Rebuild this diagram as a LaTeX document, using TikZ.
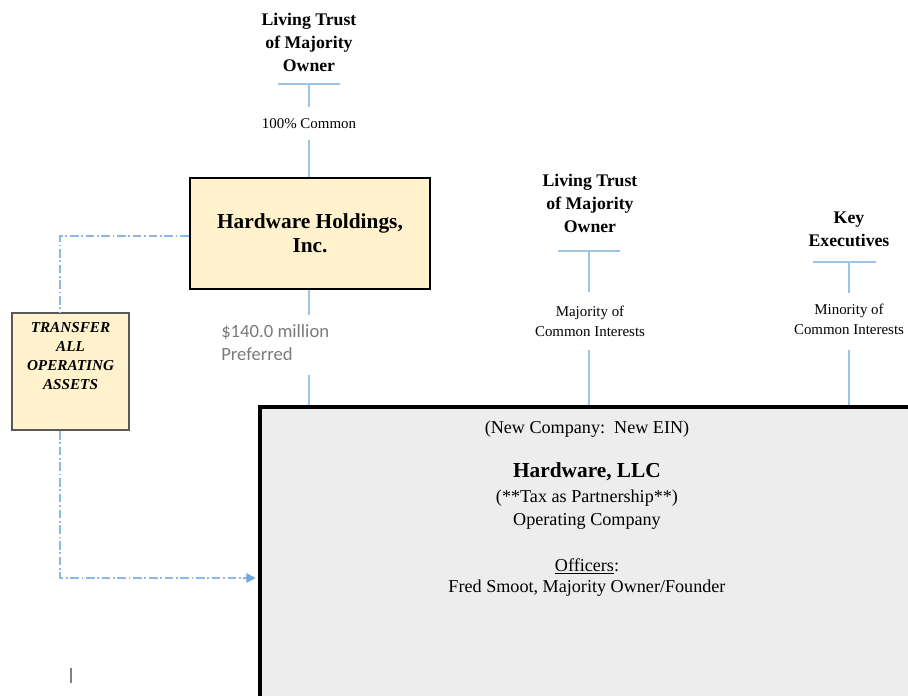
\documentclass[tikz,border=0pt]{standalone}
\usepackage{fontspec}
\setmainfont{Liberation Serif}
\newfontfamily\carlito{Carlito}
\usetikzlibrary{arrows.meta}
\definecolor{lineblue}{HTML}{9DC3E6}
\definecolor{dashblue}{HTML}{8DB8E4}
\definecolor{arrowblue}{HTML}{6FA8DC}
\definecolor{boxyellow}{HTML}{FFF2CC}
\definecolor{boxgray}{HTML}{EDEDED}
\definecolor{labelgray}{HTML}{7A7A7A}
\definecolor{tborder}{HTML}{595959}
\begin{document}
\begin{tikzpicture}[x=0.75pt,y=-0.75pt,
  ownertitle/.style={align=center, font=\bfseries\fontsize{13.3}{17.25}\selectfont, inner sep=0pt},
  sharelabel/.style={align=center, font=\fontsize{11.2}{15}\selectfont, inner sep=0pt},
  conn/.style={draw=lineblue, line width=1.3pt},
  ddline/.style={draw=dashblue, line width=1.4pt, dash pattern=on 6.5pt off 2pt on 1.3pt off 2pt},
  holdbox/.style={draw=black, fill=boxyellow, line width=2pt, minimum width=180pt, minimum height=83.25pt,
    align=center, font=\bfseries\fontsize{16}{18}\selectfont, inner sep=0pt},
  transbox/.style={draw=tborder, fill=boxyellow, line width=1.3pt, minimum width=87.75pt, minimum height=87.75pt,
    align=center, font=\bfseries\itshape\fontsize{11.4}{14.25}\selectfont, inner sep=0pt},
  llcbox/.style={draw=black, fill=boxgray, line width=2.4pt, minimum width=490.5pt, minimum height=264.75pt, inner sep=0pt},
  llctext/.style={anchor=base, font=\fontsize{13.6}{16}\selectfont, inner sep=0pt},
  preflabel/.style={anchor=west, align=left, font=\carlito\fontsize{14}{17.25}\selectfont, text=labelgray, inner sep=0pt}
]
\useasboundingbox (0,0) rectangle (908,696);

% big LLC box (extends beyond the page)
\node[llcbox] (llc) at (587,583.5) {};
\node[llctext] (nc) at (587,433) {(New Company:\ \ New EIN)};
\node[llctext, font=\bfseries\fontsize{16}{18}\selectfont] (llcname) at (587,477) {Hardware, LLC};
\node[llctext] (tax) at (587,502) {(**Tax as Partnership**)};
\node[llctext] (opco) at (587,525) {Operating Company};
\node[llctext] (off) at (587,571) {\underline{Officers}:};
\node[llctext] (fred) at (587,592) {Fred Smoot, Majority Owner/Founder};

% Holdings
\node[holdbox] (hold) at (310,233.5) {Hardware Holdings,\\Inc.};

% Owner 1
\node[ownertitle] (lt1) at (309,42) {Living Trust\\of Majority\\Owner};
\coordinate (bar1) at (309,84);
\coordinate (bar1l) at (278,84);
\coordinate (bar1r) at (340,84);
\draw[conn] (bar1l) -- (bar1r);
\node[sharelabel] (s1) at (309,124) {100\% Common};
\coordinate (g1a) at (309,107);
\coordinate (g1b) at (309,140);
\draw[conn] (bar1) -- (g1a);
\draw[conn] (g1b) -- (g1b |- hold.north);

% Preferred
\node[preflabel] (pref) at (221,342.5) {\$140.0 million\\Preferred};
\coordinate (p1) at (309,315);
\coordinate (p2) at (309,375);
\draw[conn] (p1 |- hold.south) -- (p1);
\draw[conn] (p2) -- (p2 |- llc.north);

% Owner 2
\node[ownertitle] (lt2) at (590,203) {Living Trust\\of Majority\\Owner};
\coordinate (bar2) at (589,251);
\coordinate (bar2l) at (558,251);
\coordinate (bar2r) at (620,251);
\draw[conn] (bar2l) -- (bar2r);
\node[sharelabel] (s2) at (590,321) {Majority of\\Common Interests};
\coordinate (g2a) at (589,292);
\coordinate (g2b) at (589,350);
\draw[conn] (bar2) -- (g2a);
\draw[conn] (g2b) -- (g2b |- llc.north);

% Key executives
\node[ownertitle] (ke) at (849,229) {Key\\Executives};
\coordinate (bar3) at (849,262);
\coordinate (bar3l) at (813,262);
\coordinate (bar3r) at (876,262);
\draw[conn] (bar3l) -- (bar3r);
\node[sharelabel] (s3) at (849,319.5) {Minority of\\Common Interests};
\coordinate (g3a) at (849,293);
\coordinate (g3b) at (849,350);
\draw[conn] (bar3) -- (g3a);
\draw[conn] (g3b) -- (g3b |- llc.north);

% Transfer box
\node[transbox] (tr) at (70.5,371.5) {TRANSFER\\ALL\\OPERATING\\ASSETS\\[8.5pt]\mbox{}};
\coordinate (trtop) at (60,313);
\coordinate (trbot) at (60,430);
\coordinate (arrowturn) at (60,578);
\draw[ddline] (hold.west |- 0,236) -| (trtop |- tr.north);
\draw[ddline, -{Triangle[length=7pt,width=7pt,color=arrowblue,fill=arrowblue]}, shorten >=2pt] (trbot |- tr.south) -- (arrowturn) -- (arrowturn -| llc.west);

% small cursor mark
\coordinate (ma) at (71,668);
\coordinate (mb) at (71,683);
\draw[gray, line width=1.2pt] (ma) -- (mb);
\end{tikzpicture}
\end{document}
